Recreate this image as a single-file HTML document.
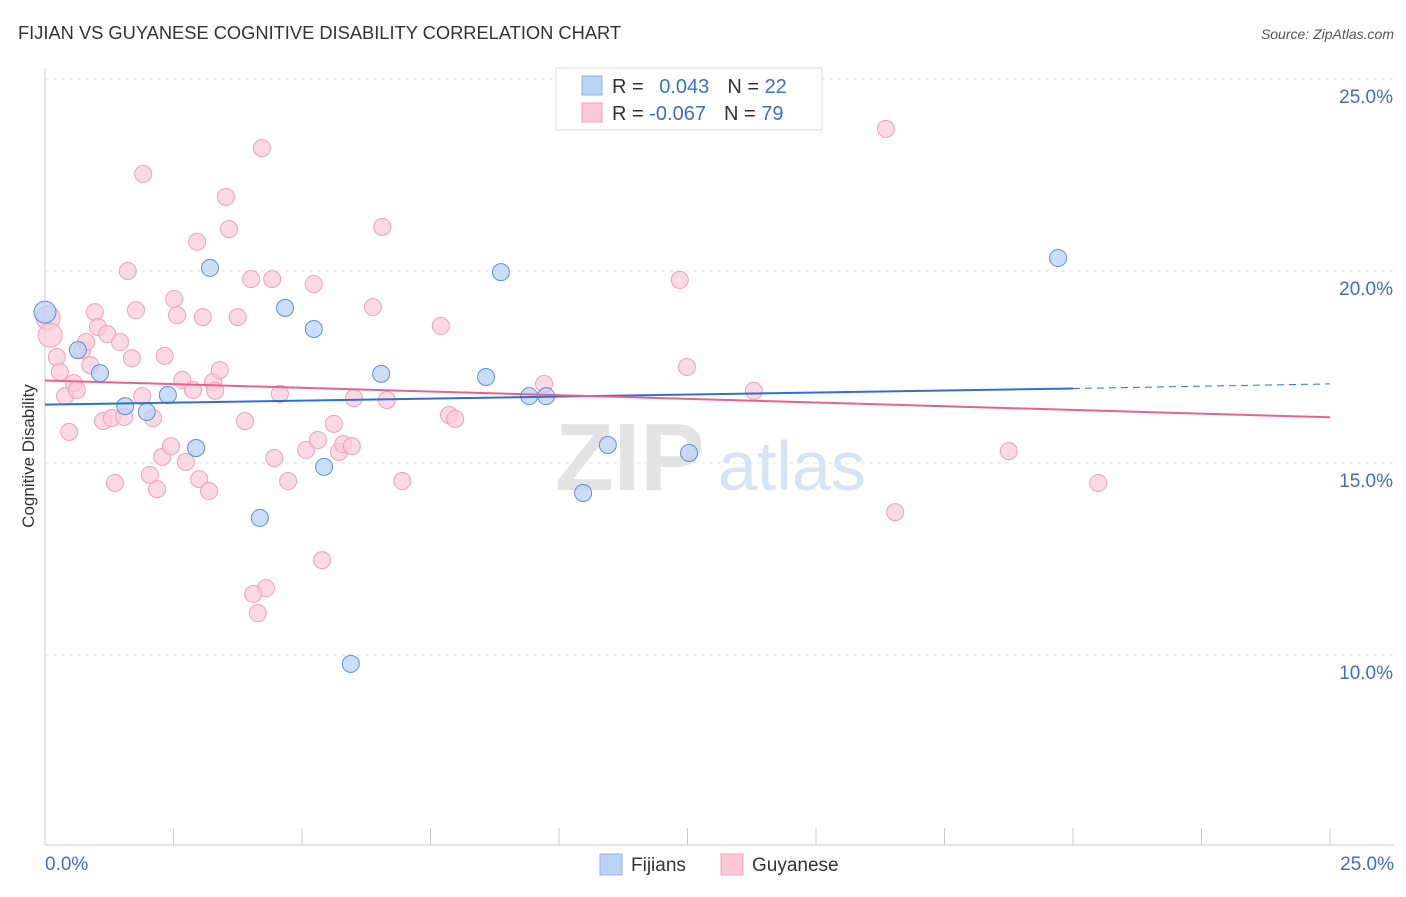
<!DOCTYPE html>
<html><head><meta charset="utf-8"><style>
body{margin:0;background:#fff;font-family:"Liberation Sans",sans-serif}
svg text{font-family:"Liberation Sans",sans-serif}
</style></head><body>
<svg id="c" width="1406" height="892">
<text x="18" y="39" font-size="18.3" fill="#333">FIJIAN VS GUYANESE COGNITIVE DISABILITY CORRELATION CHART</text>
<text x="1394" y="39" font-size="14" fill="#555" font-style="italic" text-anchor="end">Source: ZipAtlas.com</text>
<g id="grid"></g>
<text x="555" y="490" font-size="96" fill="#e3e3e3" font-family="Liberation Serif" font-weight="bold">ZIP</text>
<text x="718" y="490" font-size="70" fill="#d6e4f5">atlas</text>
<g id="axes"></g>
<g id="marks"></g>
<text transform="translate(34,456) rotate(-90)" font-size="17" fill="#333" text-anchor="middle">Cognitive Disability</text>
<g>
<rect x="556" y="68" width="266" height="62" fill="#fff" stroke="#ddd"/>
<rect x="582" y="76" width="20" height="19" fill="#b9d3f5" stroke="#8db5ea"/>
<rect x="582" y="103" width="20" height="19" fill="#fcc9d8" stroke="#f2a1ba"/>
<text x="612" y="93" font-size="20" fill="#333">R = <tspan fill="#3a6fce" dx="10">0.043</tspan><tspan dx="18" fill="#333">N = </tspan><tspan fill="#3a6fce">22</tspan></text>
<text x="612" y="120" font-size="20" fill="#333">R = <tspan fill="#3a6fce">-0.067</tspan><tspan dx="18" fill="#333">N = </tspan><tspan fill="#3a6fce">79</tspan></text>
</g>
<g>
<rect x="600" y="854" width="22" height="21" fill="#b9d3f5" stroke="#8db5ea"/>
<text x="631" y="871" font-size="19" fill="#333">Fijians</text>
<rect x="721" y="854" width="22" height="21" fill="#fcc9d8" stroke="#f2a1ba"/>
<text x="752" y="871" font-size="19" fill="#333">Guyanese</text>
</g>
</svg>
<script>
const yTicks=[10,15,20,25];
const yTickLabels=["10.0%","15.0%","20.0%","25.0%"];
const xTickLabels=["0.0%","25.0%"];
const fijX=[0.0,0.64,1.07,1.56,1.98,2.39,2.94,3.21,4.18,4.67,5.23,5.43,5.95,6.54,8.58,8.87,9.42,9.75,10.47,10.95,12.53,19.71];
const fijY=[18.93,17.94,17.34,16.48,16.33,16.77,15.39,20.08,13.57,19.04,18.49,14.90,9.77,17.32,17.24,19.97,16.74,16.74,14.22,15.47,15.26,20.34];
const guyX=[0.06,0.10,0.23,0.29,0.39,0.47,0.56,0.62,0.72,0.80,0.88,0.97,1.03,1.13,1.21,1.30,1.36,1.46,1.54,1.61,1.69,1.77,1.89,1.91,2.04,2.10,2.18,2.28,2.33,2.45,2.51,2.57,2.67,2.74,2.88,2.96,3.00,3.07,3.19,3.27,3.31,3.40,3.52,3.58,3.75,3.89,4.01,4.22,4.30,4.05,4.14,4.42,4.46,4.57,4.73,5.08,5.23,5.31,5.39,5.62,5.72,5.80,5.97,6.01,6.38,6.56,6.65,6.95,7.70,7.86,7.98,9.71,12.35,12.49,13.79,16.36,16.54,18.75,20.49];
const guyY=[18.78,18.33,17.76,17.37,16.74,15.81,17.08,16.90,17.94,18.15,17.55,18.93,18.54,16.09,18.36,16.17,14.48,18.15,16.20,20.00,17.73,18.98,16.74,22.53,14.69,16.17,14.32,15.16,17.79,15.44,19.27,18.85,17.16,15.03,16.90,20.76,14.58,18.80,14.27,17.11,16.88,17.42,21.93,21.09,18.80,16.09,19.79,23.20,11.74,11.59,11.09,19.79,15.13,16.80,14.53,15.34,19.66,15.60,12.47,16.02,15.29,15.49,15.44,16.69,19.06,21.15,16.64,14.53,18.57,16.25,16.15,17.06,19.77,17.50,16.88,23.70,13.72,15.31,14.48];
const fijTrend=[16.52,16.94,17.06];
const guyTrend=[17.15,16.19];
const NS='http://www.w3.org/2000/svg';
const X=v=>45+v*51.4, Y=v=>1039-v*38.4;
function mk(tag,attrs,parent){const e=document.createElementNS(NS,tag);for(const k in attrs)e.setAttribute(k,attrs[k]);document.getElementById(parent).appendChild(e);return e;}
yTicks.forEach((t,i)=>{
 const g=mk('line',{x1:45,x2:1394,y1:Y(t),y2:Y(t),stroke:'#e2e2e2','stroke-dasharray':'4,4'},'grid');
 
 
 const l=mk('text',{x:1393,y:Y(t)+24,'font-size':19,fill:'#3a6fce','text-anchor':'end'},'axes');
 l.textContent=yTickLabels[i];
 
 
});
mk('line',{x1:45,x2:45,y1:68,y2:845,stroke:'#ccc'},'axes');
mk('line',{x1:45,x2:1394,y1:845,y2:845,stroke:'#ccc'},'axes');
for(let i=0;i<=10;i++){const t=mk('line',{x1:X(i*2.5),x2:X(i*2.5),y1:828,y2:845,stroke:'#ccc'},'axes');
 
 }
[[0,'start',45],[1,'end',1394]].forEach(([i,a,x])=>{const l=mk('text',{x:x,y:870,'font-size':19,fill:'#3a6fce','text-anchor':a},'axes');l.textContent=xTickLabels[i];
 
 });
guyX.forEach((v,i)=>{const c=mk('circle',{cx:X(v),cy:Y(guyY[i]),r:i<2?12:8.5,fill:'#fcc9d8','fill-opacity':0.7,stroke:'#f0a0b8','stroke-width':1},'marks');
 
 });
fijX.forEach((v,i)=>{const c=mk('circle',{cx:X(v),cy:Y(fijY[i]),r:i==0?11:8.5,fill:'#b9d3f5','fill-opacity':0.75,stroke:'#5b8fd8','stroke-width':1},'marks');
 
 });
let l=mk('line',{x1:X(0),y1:Y(fijTrend[0]),x2:X(20),y2:Y(fijTrend[1]),stroke:'#2f6fd3','stroke-width':2},'marks');


l=mk('line',{x1:X(20),y1:Y(fijTrend[1]),x2:X(25),y2:Y(fijTrend[2]),stroke:'#2f6fd3','stroke-width':1,'stroke-dasharray':'7,5'},'marks');


l=mk('line',{x1:X(0),y1:Y(guyTrend[0]),x2:X(25),y2:Y(guyTrend[1]),stroke:'#e8628f','stroke-width':2},'marks');


</script>
</body></html>
